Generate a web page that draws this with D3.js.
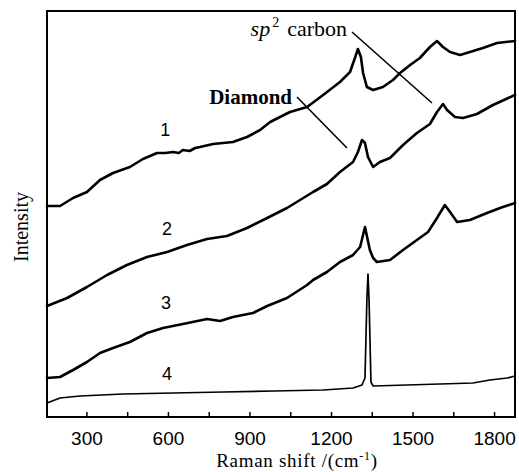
<!DOCTYPE html>
<html>
<head>
<meta charset="utf-8">
<script src="https://cdn.jsdelivr.net/npm/d3@7/dist/d3.min.js"></script>
<style>
  html, body { margin: 0; padding: 0; background: #fff; }
  svg { display: block; }
</style>
</head>
<body>
<svg id="chart" width="519" height="472"></svg>
<script>
// ---- Data (intensity in arbitrary units) ----
const shift1 = [155, 203, 251, 302, 350, 398, 460, 508, 560, 590, 619, 640, 655, 680, 700, 718, 766, 839, 891, 939, 976, 1049, 1112, 1171, 1233, 1270, 1288, 1299, 1310, 1318, 1332, 1355, 1391, 1428, 1454, 1491, 1527, 1564, 1590, 1612, 1638, 1675, 1711, 1759, 1811, 1877];
const int1   = [211, 211, 219, 225, 237, 244, 250, 258, 264, 264, 265, 264, 267, 266, 269, 270, 273, 275, 280, 287, 295, 305, 310, 322, 335, 345, 359, 368, 360, 344, 330, 327, 330, 337, 344, 352, 359, 370, 376, 370, 365, 362, 365, 369, 374, 376];

const shift2 = [155, 229, 302, 376, 449, 523, 597, 670, 744, 817, 891, 965, 1038, 1086, 1134, 1185, 1233, 1281, 1299, 1314, 1325, 1336, 1355, 1380, 1417, 1465, 1516, 1564, 1590, 1612, 1627, 1656, 1686, 1737, 1796, 1877];
const int2   = [111, 119, 130, 142, 152, 160, 165, 172, 178, 181, 189, 199, 209, 217, 225, 233, 245, 255, 265, 277, 274, 260, 250, 255, 259, 272, 284, 293, 305, 313, 307, 300, 299, 303, 312, 322];

const shift3 = [155, 203, 251, 302, 350, 398, 460, 523, 582, 655, 744, 792, 839, 913, 965, 1038, 1112, 1134, 1185, 1233, 1281, 1307, 1325, 1343, 1355, 1369, 1417, 1465, 1516, 1557, 1590, 1619, 1638, 1664, 1711, 1774, 1822, 1877];
const int3   = [39, 40, 47, 55, 64, 69, 75, 84, 89, 93, 98, 96, 100, 104, 111, 119, 132, 137, 145, 155, 162, 170, 190, 167, 159, 155, 157, 167, 177, 185, 199, 212, 205, 195, 197, 204, 209, 214];

const shift4 = [155, 203, 276, 435, 619, 803, 987, 1171, 1281, 1314, 1325, 1332, 1336, 1340, 1347, 1355, 1480, 1601, 1722, 1785, 1848, 1877];
const int4   = [14, 19, 21, 23, 24, 25, 26, 27, 29, 32, 39, 117, 143, 117, 35, 31, 32, 33, 34, 37, 39, 41];

const curveLabels = ["1", "2", "3", "4"];
const labelShift = [590, 597, 593, 597];
const labelIntensity = [281, 182, 108, 37];

const majorTicks = [300, 600, 900, 1200, 1500, 1800];
const allTicks = [300, 450, 600, 750, 900, 1050, 1200, 1350, 1500, 1650, 1800];

// ---- Layout ----
const margin = { left: 47, right: 4, top: 11, bottom: 55 };
const W = 519, H = 472;
const svg = d3.select("#chart");

const x = d3.scaleLinear().domain([155, 1877]).range([margin.left, W - margin.right]);
const y = d3.scaleLinear().domain([0, 406]).range([H - margin.bottom, margin.top]);

const series = [
  { s: shift1, v: int1, w: 2.6 },
  { s: shift2, v: int2, w: 2.6 },
  { s: shift3, v: int3, w: 2.6 },
  { s: shift4, v: int4, w: 1.7 }
];

const line = d3.line().x(d => x(d[0])).y(d => y(d[1]));

svg.append("g").selectAll("path").data(series).join("path")
  .attr("d", d => line(d.s.map((s, i) => [s, d.v[i]])))
  .attr("fill", "none")
  .attr("stroke", "#000")
  .attr("stroke-width", d => d.w)
  .attr("stroke-linejoin", "round")
  .attr("stroke-linecap", "round");

// Frame
svg.append("rect")
  .attr("x", margin.left).attr("y", margin.top)
  .attr("width", W - margin.right - margin.left)
  .attr("height", H - margin.bottom - margin.top)
  .attr("fill", "none").attr("stroke", "#000").attr("stroke-width", 2);

// X axis
const xAxis = d3.axisBottom(x)
  .tickValues(allTicks)
  .tickSize(-5)
  .tickPadding(15)
  .tickFormat(d => majorTicks.includes(d) ? String(d) : "");

const gx = svg.append("g")
  .attr("transform", `translate(0,${H - margin.bottom})`)
  .call(xAxis);
gx.select(".domain").remove();
gx.selectAll(".tick line").attr("stroke", "#000").attr("stroke-width", 1.5);
gx.selectAll(".tick text")
  .attr("font-family", "'Liberation Sans', Arial, sans-serif")
  .attr("font-size", 19)
  .attr("fill", "#000");

// Axis titles
const xt = svg.append("text")
  .attr("x", 297).attr("y", 467)
  .attr("text-anchor", "middle")
  .attr("font-family", "'Liberation Serif', 'Times New Roman', serif")
  .attr("font-size", 19)
  .attr("letter-spacing", 0.7)
  .attr("fill", "#000");
xt.append("tspan").text("Raman shift /(cm");
xt.append("tspan").attr("font-size", 12).attr("dy", -7).text("-1");
xt.append("tspan").attr("dy", 7).text(")");

svg.append("text")
  .attr("transform", "translate(28,227) rotate(-90)")
  .attr("text-anchor", "middle")
  .attr("font-family", "'Liberation Serif', 'Times New Roman', serif")
  .attr("font-size", 20)
  .attr("fill", "#000")
  .text("Intensity");

// Curve number labels
svg.append("g").selectAll("text").data(curveLabels).join("text")
  .attr("x", (d, i) => x(labelShift[i]))
  .attr("y", (d, i) => y(labelIntensity[i]))
  .attr("text-anchor", "middle")
  .attr("font-family", "'Liberation Sans', Arial, sans-serif")
  .attr("font-size", 18)
  .attr("fill", "#000")
  .text(d => d);

// Annotations
const sp = svg.append("text")
  .attr("x", 347).attr("y", 36)
  .attr("text-anchor", "end")
  .attr("font-family", "'Liberation Serif', 'Times New Roman', serif")
  .attr("font-size", 22)
  .attr("fill", "#000");
sp.append("tspan").attr("font-style", "italic").text("sp");
sp.append("tspan").attr("font-size", 14).attr("dy", -9).attr("dx", 2).text("2");
sp.append("tspan").attr("dy", 9).attr("dx", 8).text("carbon");

svg.append("text")
  .attr("x", 292).attr("y", 104)
  .attr("text-anchor", "end")
  .attr("font-family", "'Liberation Serif', 'Times New Roman', serif")
  .attr("font-size", 21)
  .attr("font-weight", "bold")
  .attr("fill", "#000")
  .text("Diamond");

const leaders = [
  { x1: 352, y1: 32, x2: 432, y2: 103 },
  { x1: 297, y1: 97, x2: 347, y2: 148 }
];
svg.append("g").selectAll("line").data(leaders).join("line")
  .attr("x1", d => d.x1).attr("y1", d => d.y1)
  .attr("x2", d => d.x2).attr("y2", d => d.y2)
  .attr("stroke", "#000").attr("stroke-width", 1.6);
</script>
</body>
</html>
